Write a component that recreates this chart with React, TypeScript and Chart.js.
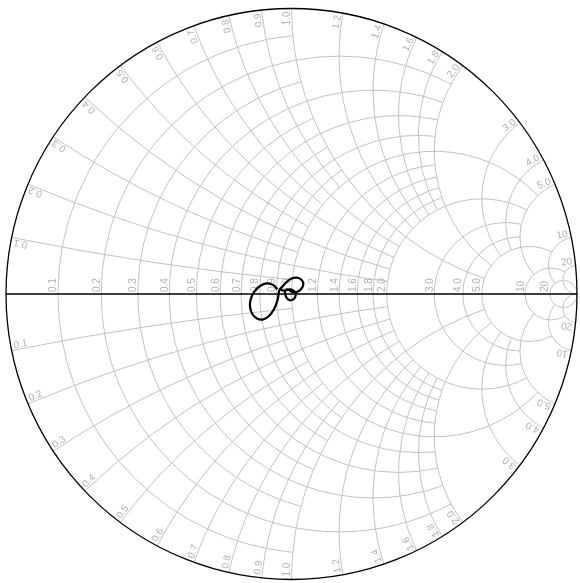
import React, { useEffect, useRef } from "react";
import { Chart, registerables } from "chart.js";

Chart.register(...registerables);

// Grid values shared by the resistance circles and the reactance arcs
const gridValues = [0.1, 0.2, 0.3, 0.4, 0.5, 0.6, 0.7, 0.8, 0.9, 1.0, 1.2, 1.4, 1.6, 1.8, 2.0, 3.0, 4.0, 5.0, 10, 20];
const tickLabels = ["0.1", "0.2", "0.3", "0.4", "0.5", "0.6", "0.7", "0.8", "0.9", "1.0", "1.2", "1.4", "1.6", "1.8", "2.0", "3.0", "4.0", "5.0", "10", "20"];
// how far (in |reactance|) each resistance circle is drawn
const resistanceReach = [1, 2, 1, 2, 1, 2, 1, 2, 1, 5, 2, 2, 2, 2, 5, 5, 5, 10, 20, Infinity];
// how far (in resistance) each reactance arc is drawn from the rim
const reactanceReach = [1, 2, 1, 2, 1, 2, 1, 2, 1, 5, 2, 2, 2, 2, 5, 5, 5, 10, 20, Infinity];

// reflection coefficient trace (real / imaginary parts)
const traceRe = [-0.0496, -0.0636, -0.087, -0.1103, -0.1302, -0.143, -0.1454, -0.1372, -0.1197, -0.0987, -0.0788, -0.0613, -0.0496, -0.0449, -0.0426, -0.0344, -0.0193, -0.0029, 0.0181, 0.0356, 0.0414, 0.0333, 0.0181, 0.0006, -0.0146, -0.0228, -0.0193, -0.0076, 0.0064, 0.0146, 0.0088, -0.0053, -0.0263, -0.0403];
const traceIm = [0.0164, 0.0315, 0.0374, 0.028, 0.0082, -0.0187, -0.0444, -0.0701, -0.0864, -0.0887, -0.0771, -0.0537, -0.0234, 0.0, 0.014, 0.0234, 0.0397, 0.0525, 0.0572, 0.049, 0.0339, 0.0164, 0.007, 0.0082, 0.0164, 0.0082, -0.0093, -0.021, -0.0187, -0.0047, 0.0105, 0.0164, 0.0117, 0.0164];

function gammaOf(r: number, x: number) {
  const d = (r + 1) * (r + 1) + x * x;
  return { re: (r * r - 1 + x * x) / d, im: (2 * x) / d };
}

const smithPlugin = {
  id: "smithGrid",
  beforeDatasetsDraw(chart: any) {
    const ctx: CanvasRenderingContext2D = chart.ctx;
    const xs = chart.scales.x;
    const ys = chart.scales.y;
    const px = (v: number) => xs.getPixelForValue(v);
    const py = (v: number) => ys.getPixelForValue(v);
    const scale = (px(1) - px(-1)) / 2;
    ctx.save();
    ctx.strokeStyle = "#c2c2c2";
    ctx.lineWidth = 1;

    // resistance circles
    gridValues.forEach((r, i) => {
      const lim = resistanceReach[i];
      const cx = px(r / (1 + r));
      const cy = py(0);
      const R = scale / (1 + r);
      ctx.beginPath();
      if (!isFinite(lim)) {
        ctx.arc(cx, cy, R, 0, Math.PI * 2);
      } else {
        const gu = gammaOf(r, lim);
        const gd = gammaOf(r, -lim);
        const a1 = Math.atan2(py(gu.im) - cy, px(gu.re) - cx);
        const a2 = Math.atan2(py(gd.im) - cy, px(gd.re) - cx);
        ctx.arc(cx, cy, R, a1, a2, true);
      }
      ctx.stroke();
    });

    // reactance arcs
    gridValues.forEach((xv, i) => {
      const lim = reactanceReach[i];
      [xv, -xv].forEach((x) => {
        const cx = px(1);
        const cy = py(1 / x);
        const R = scale / Math.abs(x);
        const g0 = gammaOf(0, x);
        const g1 = isFinite(lim) ? gammaOf(lim, x) : { re: 1, im: 0 };
        const a0 = Math.atan2(py(g0.im) - cy, px(g0.re) - cx);
        const a1 = Math.atan2(py(g1.im) - cy, px(g1.re) - cx);
        let d = a1 - a0;
        while (d > Math.PI) d -= 2 * Math.PI;
        while (d < -Math.PI) d += 2 * Math.PI;
        ctx.beginPath();
        ctx.arc(cx, cy, R, a0, a0 + d, d < 0);
        ctx.stroke();
      });
    });

    // labels
    ctx.fillStyle = "#b0b0b0";
    ctx.font = "10px 'Liberation Sans', Arial, sans-serif";
    const y0 = py(0);
    gridValues.forEach((r, i) => {
      const X = px((r - 1) / (r + 1));
      ctx.save();
      ctx.translate(X - 1.5, y0 - 2);
      ctx.rotate(-Math.PI / 2);
      ctx.textAlign = "left";
      ctx.textBaseline = "alphabetic";
      ctx.fillText(tickLabels[i], 0, 0);
      ctx.restore();
    });
    gridValues.forEach((xv, i) => {
      [xv, -xv].forEach((x) => {
        const g = gammaOf(0, x);
        const th = Math.atan2(g.im, g.re);
        ctx.save();
        ctx.translate(px(g.re), py(g.im));
        if (x > 0) {
          ctx.rotate(-th);
          ctx.textAlign = "right";
          ctx.textBaseline = "alphabetic";
          ctx.fillText(tickLabels[i], -3, -1.5);
        } else {
          ctx.rotate(-th - Math.PI);
          ctx.textAlign = "left";
          ctx.textBaseline = "alphabetic";
          ctx.fillText(tickLabels[i], 3, -1.5);
        }
        ctx.restore();
      });
    });

    // real axis and outer rim
    ctx.strokeStyle = "#000";
    ctx.lineWidth = 1.5;
    ctx.beginPath();
    ctx.moveTo(px(-1), y0);
    ctx.lineTo(px(1), y0);
    ctx.stroke();
    ctx.lineWidth = 1.3;
    ctx.beginPath();
    ctx.arc(px(0), y0, scale, 0, Math.PI * 2);
    ctx.stroke();
    ctx.restore();
  },
};

export default function App() {
  const ref = useRef<HTMLCanvasElement>(null);
  useEffect(() => {
    const chart = new Chart(ref.current as HTMLCanvasElement, {
      type: "scatter",
      data: {
        datasets: [
          {
            data: traceRe.map((re, i) => ({ x: re, y: traceIm[i] })),
            showLine: true,
            borderColor: "#000",
            borderWidth: 2.2,
            pointRadius: 0,
            tension: 0.35,
            fill: false,
          },
        ],
      },
      options: {
        animation: false,
        responsive: true,
        maintainAspectRatio: false,
        layout: { padding: { left: 6, right: 3, top: 8.5, bottom: 3.5 } },
        scales: {
          x: { type: "linear", min: -1, max: 1, display: false },
          y: { type: "linear", min: -1, max: 1, display: false },
        },
        plugins: { legend: { display: false }, tooltip: { enabled: false } },
      },
      plugins: [smithPlugin],
    } as any);
    return () => chart.destroy();
  }, []);
  return (
    <div style={{ position: "absolute", left: 0, top: 0, width: 580, height: 583 }}>
      <canvas ref={ref} />
    </div>
  );
}
